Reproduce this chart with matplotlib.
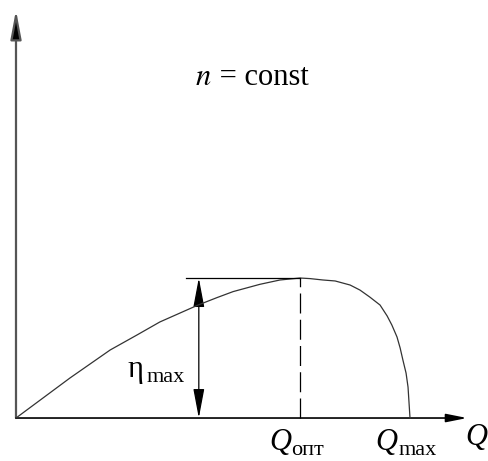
import numpy as np
import matplotlib.pyplot as plt
from matplotlib.patches import FancyArrowPatch

plt.rcParams['font.family'] = ['Liberation Serif', 'DejaVu Serif']

# efficiency curve at constant speed, Q and eta normalised to Q_max and eta_max
Q = [0.0, 0.0685, 0.137, 0.239, 0.307, 0.365, 0.462, 0.510, 0.551, 0.619,
     0.670, 0.695, 0.721, 0.746, 0.779, 0.810, 0.848, 0.873, 0.898, 0.924,
     0.942, 0.954, 0.967, 0.975, 0.982, 0.990, 0.995, 1.0]
eta = [0.0, 0.143, 0.286, 0.486, 0.593, 0.686, 0.807, 0.860, 0.903, 0.955,
       0.986, 0.993, 1.0, 0.996, 0.986, 0.979, 0.950, 0.914, 0.864, 0.807,
       0.729, 0.664, 0.579, 0.500, 0.414, 0.321, 0.221, 0.0]
Q_opt = 0.721
Q_max = 1.0
eta_max = 1.0
Q_dim = 0.464      # where the eta_max dimension line sits
Q_tick = 0.431     # left end of the eta_max extension line
x_end = 1.145
y_end = 2.914

fig = plt.figure(figsize=(4.89, 4.61), dpi=100)
ax = fig.add_axes([0, 0, 1, 1])
ax.set_xlim(-0.0406, 1.2005)
ax.set_ylim(-0.307, 2.986)
ax.axis('off')

# axes with arrows
ya = FancyArrowPatch((0, 0), (0, y_end), arrowstyle='-|>,head_length=1.75,head_width=0.33',
                     mutation_scale=10, shrinkA=0, shrinkB=0, color='#555555', lw=1.6)
ax.add_patch(ya)
xa = FancyArrowPatch((0, 0), (x_end, 0), arrowstyle='-|>,head_length=1.25,head_width=0.25',
                     mutation_scale=10, shrinkA=0, shrinkB=0, color='black', lw=1.2)
ax.add_patch(xa)
# make the arrow tips solid black
for p in (ya, xa):
    p.set_facecolor('black')

# curve
ax.plot(Q, eta, color='#333333', lw=0.9, solid_joinstyle='round')

# eta_max extension and dimension line
ax.plot([Q_tick, Q_opt], [eta_max, eta_max], color='black', lw=0.9)
dim = FancyArrowPatch((Q_dim, 0), (Q_dim, eta_max),
                      arrowstyle='<|-|>,head_length=1.8,head_width=0.34',
                      mutation_scale=10, shrinkA=0, shrinkB=0, color='black', lw=0.9)
ax.add_patch(dim)

# optimum flow
ax.plot([Q_opt, Q_opt], [0, eta_max], color='black', lw=0.9, linestyle=(0, (16, 5)))

# labels
ax.text(0.497, 2.379, '$n$', fontsize=22, ha='right', va='baseline',
        math_fontfamily='stix')
ax.text(0.497, 2.379, ' = const', fontsize=22, ha='left', va='baseline')
ax.text(0.284, 0.29, 'η', fontsize=22, ha='left', va='baseline')
ax.text(0.332, 0.26, 'max', fontsize=16, ha='left', va='baseline')
ax.text(Q_opt - 0.078, -0.229, 'Q', fontsize=22, style='italic', ha='left', va='baseline')
ax.text(Q_opt - 0.022, -0.264, 'опт', fontsize=16, ha='left', va='baseline')
ax.text(Q_max - 0.089, -0.229, 'Q', fontsize=22, style='italic', ha='left', va='baseline')
ax.text(Q_max - 0.030, -0.264, 'max', fontsize=16, ha='left', va='baseline')
ax.text(1.140, -0.193, 'Q', fontsize=22, style='italic', ha='left', va='baseline')

fig.savefig('out.png', dpi=100)
